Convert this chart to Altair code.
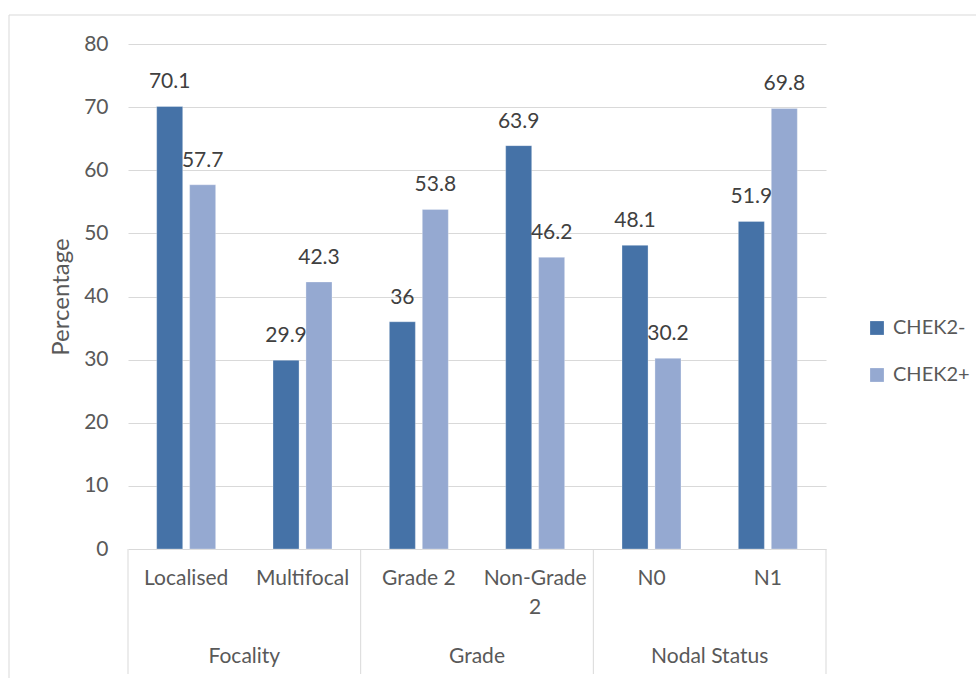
import altair as alt
import pandas as pd

categories = ["Localised", "Multifocal", "Grade 2", "Non-Grade 2", "N0", "N1"]
category_labels = ["Localised", "Multifocal", "Grade 2", "Non-Grade\n2", "N0", "N1"]
groups = ["Focality", "Focality", "Grade", "Grade", "Nodal Status", "Nodal Status"]
series = ["CHEK2-", "CHEK2+"]
chek2_neg = [70.1, 29.9, 36, 63.9, 48.1, 51.9]
chek2_pos = [57.7, 42.3, 53.8, 46.2, 30.2, 69.8]
y_ticks = [0, 10, 20, 30, 40, 50, 60, 70, 80]
colors = ["#4572A7", "#95A9D1"]

W, H = 698, 505
FONT = "Lato"
FS = 21
GRAY = "#d9d9d9"

rows = []
for c, n, p in zip(categories, chek2_neg, chek2_pos):
    rows.append({"Category": c, "Series": series[0], "Value": n})
    rows.append({"Category": c, "Series": series[1], "Value": p})
df = pd.DataFrame(rows)

cat_df = pd.DataFrame({"Category": categories, "Label": category_labels, "Group": groups})

group_names = []
for g in groups:
    if g not in group_names:
        group_names.append(g)
left_edges = [categories[groups.index(g)] for g in group_names]
right_edge = [categories[-1]]
group_centers = pd.DataFrame({
    "Category": [categories[groups.index(g)] for g in group_names],
    "Group": group_names,
})

xscale = alt.Scale(domain=categories, paddingInner=0, paddingOuter=0)
yscale = alt.Scale(domain=[0, 80])
offscale = alt.Scale(domain=series, paddingInner=0.21, paddingOuter=0.87)

base = alt.Chart(df)

bars = base.mark_bar(stroke="#ffffff", strokeWidth=0.6, strokeOpacity=0.5).encode(
    x=alt.X("Category:N", scale=xscale, axis=None, sort=categories),
    xOffset=alt.XOffset("Series:N", scale=offscale),
    y=alt.Y(
        "Value:Q",
        scale=yscale,
        axis=alt.Axis(
            values=y_ticks,
            title="Percentage",
            titleFont=FONT,
            titleFontSize=24,
            titleFontWeight="normal",
            titleColor="#595959",
            titlePadding=10,
            labelFont=FONT,
            labelFontSize=FS,
            labelColor="#595959",
            labelPadding=20,
            ticks=False,
            domain=False,
            grid=True,
            gridColor=GRAY,
            gridWidth=1,
        ),
    ),
    color=alt.Color(
        "Series:N",
        scale=alt.Scale(domain=series, range=colors),
        legend=alt.Legend(
            title=None,
            orient="none",
            legendX=739,
            legendY=274,
            symbolType="square",
            symbolSize=190,
            symbolStrokeWidth=0,
            labelFont=FONT,
            labelFontSize=20,
            labelColor="#595959",
            labelOffset=6,
            rowPadding=27,
            padding=0,
        ),
    ),
)

value_labels = base.mark_text(
    font=FONT, fontSize=FS, color="#404040", baseline="bottom", dy=-14
).encode(
    x=alt.X("Category:N", scale=xscale, sort=categories),
    xOffset=alt.XOffset("Series:N", scale=offscale),
    y=alt.Y("Value:Q", scale=yscale),
    text=alt.Text("Value:Q", format="~f"),
)

cat_text = alt.Chart(cat_df).mark_text(
    font=FONT, fontSize=FS, color="#595959", baseline="top", lineBreak="\n", lineHeight=29
).encode(
    x=alt.X("Category:N", scale=xscale, sort=categories),
    y=alt.value(H + 19),
    text="Label:N",
)

group_text = alt.Chart(group_centers).mark_text(
    font=FONT, fontSize=FS, color="#595959", baseline="middle"
).encode(
    x=alt.X("Category:N", scale=xscale, sort=categories, bandPosition=1),
    y=alt.value(H + 108),
    text="Group:N",
)

sep_left = alt.Chart(pd.DataFrame({"Category": left_edges})).mark_rule(color=GRAY, strokeWidth=1).encode(
    x=alt.X("Category:N", scale=xscale, sort=categories, bandPosition=0),
    y=alt.value(H),
    y2=alt.value(H + 125),
)
sep_right = alt.Chart(pd.DataFrame({"Category": right_edge})).mark_rule(color=GRAY, strokeWidth=1).encode(
    x=alt.X("Category:N", scale=xscale, sort=categories, bandPosition=1),
    y=alt.value(H),
    y2=alt.value(H + 125),
)

frame_data = alt.Data(values=[{}])
frame_top = alt.Chart(frame_data).mark_rule(color=GRAY, strokeWidth=1).encode(
    x=alt.value(-119), x2=alt.value(W + 200), y=alt.value(-29)
)
frame_left = alt.Chart(frame_data).mark_rule(color=GRAY, strokeWidth=1).encode(
    x=alt.value(-119), y=alt.value(-29), y2=alt.value(H + 200)
)

chart = alt.layer(
    frame_top, frame_left, bars, value_labels, cat_text, group_text, sep_left, sep_right
).properties(
    width=W,
    height=H,
    autosize=alt.AutoSizeParams(type="none"),
    padding={"left": 128, "top": 44, "right": 150, "bottom": 129},
    background="white",
).configure_view(stroke=None)

chart.save("out.html", embed_options={"renderer": "svg", "actions": False})
